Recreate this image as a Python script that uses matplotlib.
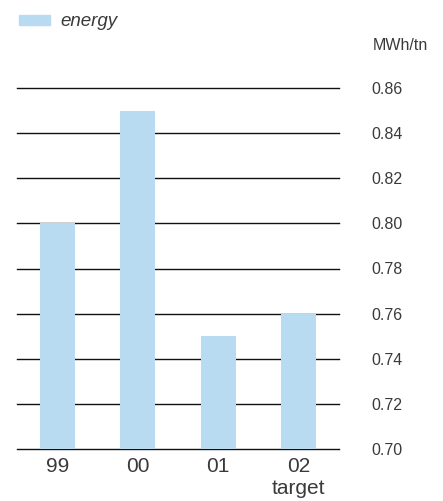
import matplotlib
matplotlib.use("Agg")
import matplotlib.pyplot as plt
from matplotlib.patches import Rectangle

categories = ["99", "00", "01", "02\ntarget"]
energy = [0.80, 0.85, 0.75, 0.76]
yticks = [0.70, 0.72, 0.74, 0.76, 0.78, 0.80, 0.82, 0.84, 0.86]

bar_color = "#b9dbf2"
text_color = "#3a3a3a"
plt.rcParams["font.family"] = ["Liberation Sans", "DejaVu Sans"]

fig = plt.figure(figsize=(4.43, 5.01), dpi=100)
ax = fig.add_axes([17/443, 1-449/501, 322/443, (449-88)/501])

x = list(range(len(categories)))
for t in yticks:
    ax.axhline(t, color="#111111", lw=1.0, zorder=1, clip_on=False)
ax.bar(x, energy, width=0.435, color=bar_color, zorder=2)

ax.set_xlim(-0.5, 3.5)
ax.set_ylim(0.70, 0.86)
for s in ax.spines.values():
    s.set_visible(False)
ax.yaxis.tick_right()
ax.set_yticks(yticks)
ax.set_yticklabels([f"{t:.2f}" for t in yticks], fontsize=11.5, color=text_color)
ax.tick_params(axis="y", length=0, pad=23)
ax.set_xticks(x)
ax.set_xticklabels(categories, fontsize=15, color=text_color, linespacing=1.2)
ax.tick_params(axis="x", length=0, pad=6)

fig.text(373/443, 1-45/501, "MWh/tn", fontsize=11.5, color=text_color, ha="left", va="center")
fig.patches.append(Rectangle((19/443, 1-25/501), 31/443, 10/501, transform=fig.transFigure,
                             color=bar_color, figure=fig))
fig.text(60/443, 1-21/501, "energy", fontsize=13.5, style="italic", color=text_color,
         ha="left", va="center")

fig.savefig("out.png", dpi=100)
